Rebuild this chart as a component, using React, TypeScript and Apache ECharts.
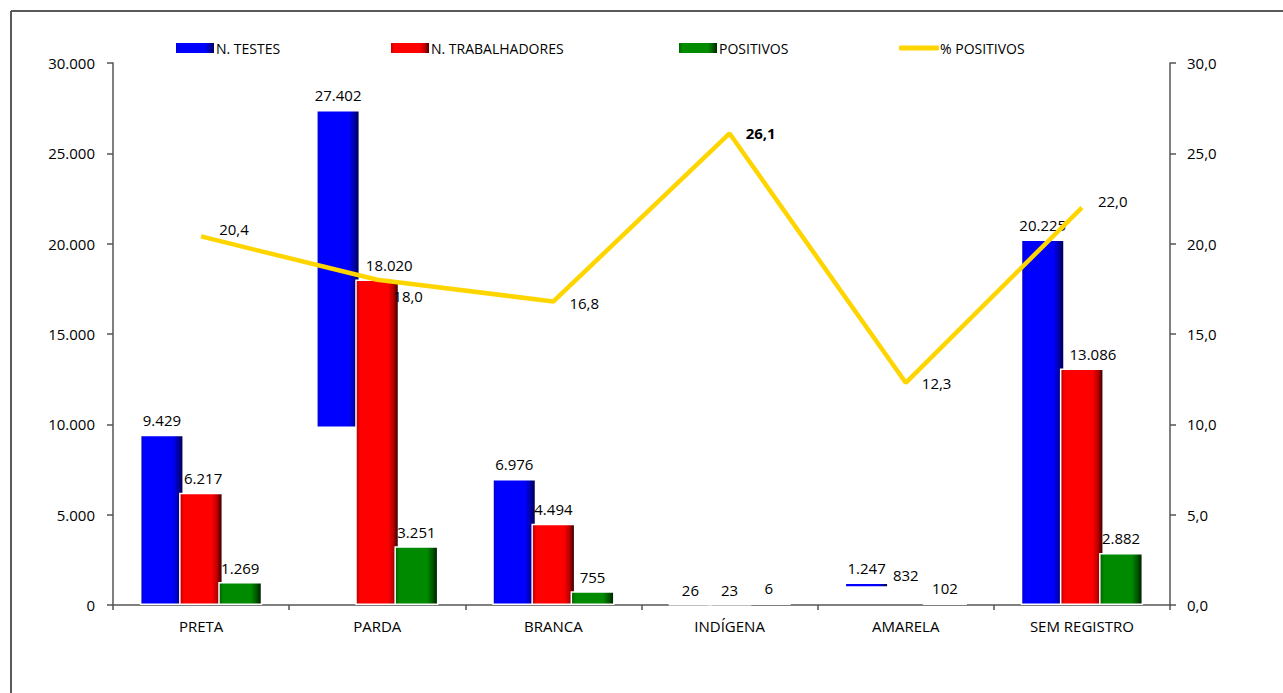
import React, { useEffect, useRef } from "react";
import * as echarts from "echarts";

const categories = ["PRETA", "PARDA", "BRANCA", "INDÍGENA", "AMARELA", "SEM REGISTRO"];
const nTestes = [9429, 27402, 6976, 26, 1247, 20225];
// visual artefact in the original chart: some blue bars float above the axis
const nTestesBase = [0, 9800, 0, 0, 950, 0];
const nTrabalhadores = [6217, 18020, 4494, 23, 832, 13086];
const trabalhadoresHidden = [false, false, false, false, true, false];
const positivos = [1269, 3251, 755, 6, 102, 2882];
const pctPositivos = [20.4, 18.0, 16.8, 26.1, 12.3, 22.0];
const pctLabelOffsets = [[2, -7], [0, 16], [0, 2], [0, 0], [0, 0], [0, -7]];
const pctLabelBold = [false, false, false, true, false, false];
const trabLabelDx = [2, 12, 0, 0, 0, 11];

const FONT = "Open Sans";

const fmtThousands = (v: number) =>
  Math.round(v).toString().replace(/\B(?=(\d{3})+(?!\d))/g, ".");
const fmtDec = (v: number) => v.toFixed(1).replace(".", ",");

function grad(edgeL: string, main: string, edgeR: string, dark: string) {
  return new echarts.graphic.LinearGradient(0, 0, 1, 0, [
    { offset: 0, color: edgeL },
    { offset: 0.1, color: main },
    { offset: 0.75, color: main },
    { offset: 0.88, color: edgeR },
    { offset: 1, color: dark },
  ]);
}

export default function App() {
  const ref = useRef<HTMLDivElement>(null);
  useEffect(() => {
    if (!ref.current) return;
    const chart = echarts.init(ref.current, undefined, { renderer: "svg" });
    const blue = grad("#0000c8", "#0000ff", "#0000a8", "#000040");
    const red = grad("#b00000", "#ff0000", "#b80000", "#280000");
    const green = grad("#005a00", "#008a00", "#005800", "#001800");
    const labelStyle = { fontFamily: FONT, fontSize: 15, color: "#000" };
    const barCommon = {
      type: "bar" as const,
      barWidth: 44,
      barGap: "-11%",
    };
    const legendText = { fontFamily: FONT, fontSize: 14, color: "#000", padding: [0, 0, 0, -4] };
    const option: any = {
      animation: false,
      backgroundColor: "#fff",
      textStyle: { fontFamily: FONT },
      grid: { left: 113, right: 113, top: 63, bottom: 88, containLabel: false },
      legend: [
        { name: "N. TESTES", left: 169 },
        { name: "N. TRABALHADORES", left: 384 },
        { name: "POSITIVOS", left: 672 },
      ]
        .map((l) => ({
          data: [l.name],
          left: l.left,
          top: 36,
          itemWidth: 40,
          itemHeight: 12,
          icon: "rect",
          textStyle: legendText,
        }))
        .concat([
          {
            data: ["% POSITIVOS"],
            left: 894,
            top: 36,
            itemWidth: 40,
            itemHeight: 5,
            icon: "roundRect",
            textStyle: legendText,
          } as any,
        ]),
      graphic: [
        {
          type: "line",
          shape: { x1: 11, y1: 11, x2: 1283, y2: 11 },
          style: { stroke: "#5a5a5a", lineWidth: 2 },
        },
        {
          type: "line",
          shape: { x1: 11, y1: 11, x2: 11, y2: 693 },
          style: { stroke: "#5a5a5a", lineWidth: 2 },
        },
      ],
      xAxis: {
        type: "category",
        data: categories,
        axisLine: { lineStyle: { color: "#555", width: 1.5 } },
        axisTick: { show: true, alignWithLabel: false, length: 5, lineStyle: { color: "#555", width: 1.5 } },
        axisLabel: { fontFamily: FONT, fontSize: 15, color: "#000", margin: 13 },
      },
      yAxis: [
        {
          type: "value",
          min: 0,
          max: 30000,
          interval: 5000,
          axisLine: { show: true, lineStyle: { color: "#555", width: 1.5 } },
          axisTick: { show: true, length: 6, lineStyle: { color: "#555", width: 1.5 } },
          splitLine: { show: false },
          axisLabel: { fontFamily: FONT, fontSize: 15, color: "#000", margin: 18, formatter: fmtThousands },
        },
        {
          type: "value",
          min: 0,
          max: 30,
          interval: 5,
          axisLine: { show: true, lineStyle: { color: "#555", width: 1.5 } },
          axisTick: { show: true, length: 6, lineStyle: { color: "#555", width: 1.5 } },
          splitLine: { show: false },
          axisLabel: { fontFamily: FONT, fontSize: 15, color: "#000", margin: 17, formatter: fmtDec },
        },
      ],
      series: [
        {
          ...barCommon,
          name: "_base",
          stack: "testes",
          silent: true,
          itemStyle: { color: "rgba(0,0,0,0)" },
          data: nTestesBase,
        },
        {
          ...barCommon,
          name: "N. TESTES",
          stack: "testes",
          itemStyle: { color: blue, borderColor: "#fff", borderWidth: 1.5 },
          data: nTestes.map((v, i) => v - nTestesBase[i]),
          label: {
            show: true,
            position: "top",
            distance: 7,
            ...labelStyle,
            formatter: (p: any) => fmtThousands(nTestes[p.dataIndex]),
          },
        },
        {
          ...barCommon,
          name: "N. TRABALHADORES",
          itemStyle: { color: red, borderColor: "#fff", borderWidth: 1.5 },
          data: nTrabalhadores.map((v, i) =>
            trabalhadoresHidden[i]
              ? { value: v, itemStyle: { color: "rgba(0,0,0,0)", borderColor: "rgba(0,0,0,0)" } }
              : v
          ),
          label: {
            show: true,
            position: "top",
            distance: 7,
            ...labelStyle,
            formatter: (p: any) => fmtThousands(p.value),
          },
          labelLayout: (p: any) => ({ dx: trabLabelDx[p.dataIndex], hideOverlap: false }),
        },
        {
          ...barCommon,
          name: "POSITIVOS",
          barMinHeight: 3,
          itemStyle: { color: green, borderColor: "#fff", borderWidth: 1.5 },
          data: positivos,
          label: {
            show: true,
            position: "top",
            distance: 7,
            ...labelStyle,
            formatter: (p: any) => fmtThousands(p.value),
          },
        },
        {
          type: "line",
          name: "% POSITIVOS",
          yAxisIndex: 1,
          symbol: "circle",
          symbolSize: 0.1,
          showSymbol: true,
          lineStyle: { color: "#FFD500", width: 4.5 },
          itemStyle: { color: "#FFD500" },
          data: pctPositivos.map((v, i) => ({
            value: v,
            label: {
              fontWeight: pctLabelBold[i] ? "bold" : "normal",
            },
          })),
          label: {
            show: true,
            position: "right",
            distance: 16,
            ...labelStyle,
            formatter: (p: any) => fmtDec(p.value),
          },
          labelLayout: (p: any) => ({
            dx: pctLabelOffsets[p.dataIndex][0],
            dy: pctLabelOffsets[p.dataIndex][1],
            hideOverlap: false,
          }),
          z: 5,
        },
      ],
    };
    chart.setOption(option);
    return () => chart.dispose();
  }, []);
  return (
    <div
      ref={ref}
      style={{ position: "fixed", left: 0, top: 0, width: 1283, height: 693, background: "#fff" }}
    />
  );
}
